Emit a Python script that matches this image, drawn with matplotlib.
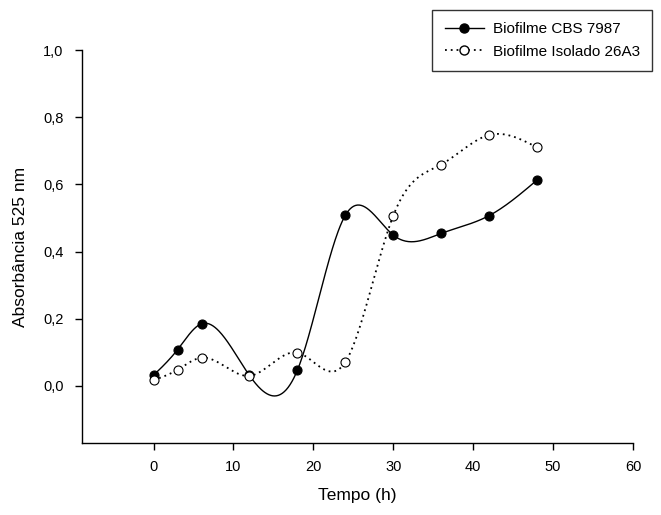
import numpy as np
import matplotlib
matplotlib.use("Agg")
import matplotlib.pyplot as plt
from matplotlib.lines import Line2D

plt.rcParams['font.family'] = ['Liberation Sans', 'DejaVu Sans']

# Data
tempo = [0, 3, 6, 12, 18, 24, 30, 36, 42, 48]
cbs_7987 = [0.032, 0.108, 0.185, 0.031, 0.047, 0.508, 0.449, 0.454, 0.507, 0.613]
isolado_26a3 = [0.017, 0.048, 0.084, 0.030, 0.099, 0.071, 0.507, 0.659, 0.747, 0.710]
x_ticks = [0, 10, 20, 30, 40, 50, 60]
y_ticks = [0.0, 0.2, 0.4, 0.6, 0.8, 1.0]
y_tick_labels = ['0,0', '0,2', '0,4', '0,6', '0,8', '1,0']


def natural_spline(x, y, n=400):
    x = np.asarray(x, float)
    y = np.asarray(y, float)
    m = len(x)
    h = np.diff(x)
    A = np.zeros((m, m))
    b = np.zeros(m)
    A[0, 0] = 1
    A[-1, -1] = 1
    for i in range(1, m - 1):
        A[i, i - 1] = h[i - 1]
        A[i, i] = 2 * (h[i - 1] + h[i])
        A[i, i + 1] = h[i]
        b[i] = 3 * ((y[i + 1] - y[i]) / h[i] - (y[i] - y[i - 1]) / h[i - 1])
    c = np.linalg.solve(A, b)
    xs = np.linspace(x[0], x[-1], n)
    idx = np.clip(np.searchsorted(x, xs) - 1, 0, m - 2)
    dx = xs - x[idx]
    hi = h[idx]
    bb = (y[idx + 1] - y[idx]) / hi - hi * (2 * c[idx] + c[idx + 1]) / 3
    dd = (c[idx + 1] - c[idx]) / (3 * hi)
    ys = y[idx] + bb * dx + c[idx] * dx ** 2 + dd * dx ** 3
    return xs, ys


fig = plt.figure(figsize=(6.61, 5.15), dpi=100)
ax = fig.add_axes([0.1236, 0.1398, 0.8340, 0.7631])

xs, ys = natural_spline(tempo, cbs_7987)
ax.plot(xs, ys, color='black', lw=1.0, zorder=2)
xs2, ys2 = natural_spline(tempo, isolado_26a3)
ax.plot(xs2, ys2, color='black', lw=1.3, linestyle=(0, (1, 2.2)), zorder=2)

ax.plot(tempo, cbs_7987, linestyle='none', marker='o', ms=6.5,
        mfc='black', mec='black', mew=0.8, zorder=3)
ax.plot(tempo, isolado_26a3, linestyle='none', marker='o', ms=6.5,
        mfc='white', mec='black', mew=0.8, zorder=4)

ax.set_xlim(-9, 60)
ax.set_ylim(-0.17, 1.0)
ax.set_xticks(x_ticks)
ax.set_yticks(y_ticks)
ax.set_yticklabels(y_tick_labels)
for s in ['top', 'right']:
    ax.spines[s].set_visible(False)
for s in ['left', 'bottom']:
    ax.spines[s].set_linewidth(1.0)
ax.tick_params(direction='out', length=5, width=1.0, labelsize=10.5)
ax.tick_params(axis='x', pad=7)
ax.tick_params(axis='y', pad=8)
ax.set_xlabel('Tempo (h)', fontsize=12.5, labelpad=10)
ax.set_ylabel('Absorbância 525 nm', fontsize=12.5, labelpad=11)

handles = [
    Line2D([], [], color='black', lw=1.0, marker='o', ms=6.5, mfc='black', mec='black'),
    Line2D([], [], color='black', lw=1.3, linestyle=(0, (1, 2.2)), marker='o', ms=6.5,
           mfc='white', mec='black'),
]
leg = fig.legend(handles, ['Biofilme CBS 7987', 'Biofilme Isolado 26A3'],
                 loc='upper right', bbox_to_anchor=(0.9864, 0.9806),
                 fontsize=11, frameon=True, fancybox=False, handlelength=2.6,
                 borderpad=0.8, labelspacing=0.55, handletextpad=0.55,
                 borderaxespad=0)
leg.get_frame().set_edgecolor('black')
leg.get_frame().set_linewidth(1.0)

fig.savefig('out.png', dpi=100)
